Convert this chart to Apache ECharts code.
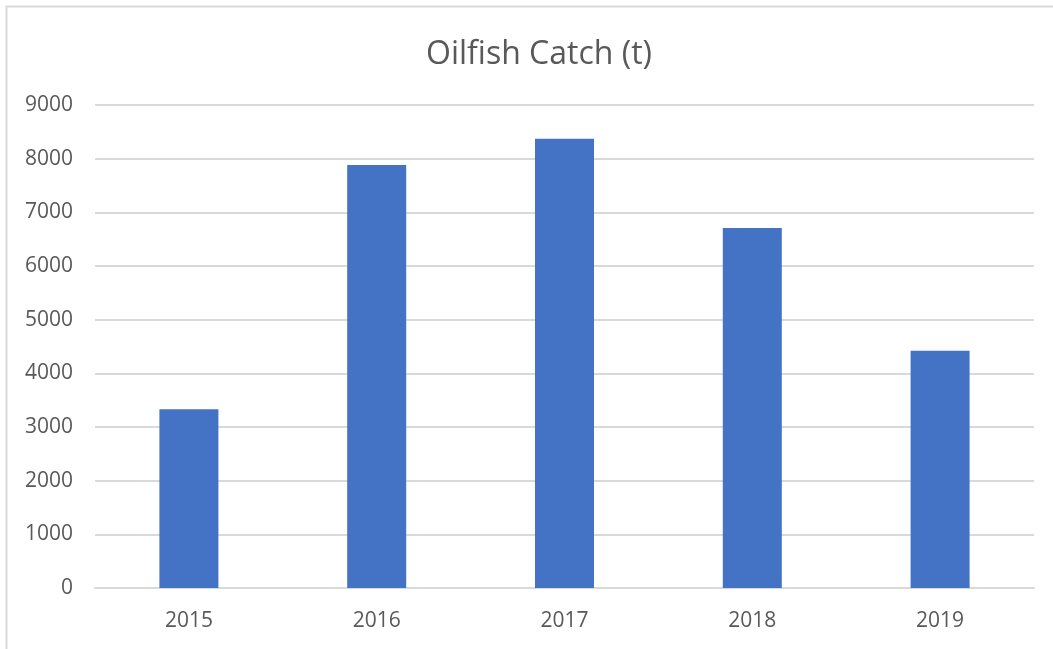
<!DOCTYPE html>
<html>
<head>
<meta charset="utf-8">
<title>Oilfish Catch (t)</title>
<script src="https://cdn.jsdelivr.net/npm/echarts@6/dist/echarts.min.js"></script>
<style>
  html, body { margin: 0; padding: 0; background: #fff; }
  #chart { width: 1053px; height: 649px; }
</style>
</head>
<body>
<div id="chart"></div>
<script>
const years = ['2015', '2016', '2017', '2018', '2019']
const catchTonnes = [3330, 7880, 8370, 6710, 4420]
const yTicks = { min: 0, max: 9000, interval: 1000 }

const textColor = '#595959'
const gridColor = '#d9d9d9'
const fontFamily = '"Open Sans", "Noto Sans", sans-serif'

const myChart = echarts.init(document.getElementById('chart'))

const option = {
  backgroundColor: '#fff',
  animation: false,
  title: {
    text: 'Oilfish Catch (t)',
    left: 534,
    top: 34,
    textAlign: 'center',
    textStyle: {
      color: textColor,
      fontSize: 32,
      fontWeight: 'normal',
      fontFamily: fontFamily
    }
  },
  graphic: [
    {
      // outer chart border (cropped on the right and bottom)
      type: 'rect',
      silent: true,
      shape: { x: 6.5, y: 6.5, width: 1070, height: 670 },
      style: { fill: 'none', stroke: gridColor, lineWidth: 2 }
    }
  ],
  grid: {
    left: 95,
    right: 19,
    top: 105,
    bottom: 61,
    containLabel: false
  },
  xAxis: {
    type: 'category',
    data: years,
    axisLine: { lineStyle: { color: gridColor, width: 2 } },
    axisTick: { show: false },
    axisLabel: {
      color: textColor,
      fontSize: 21,
      fontFamily: fontFamily,
      margin: 23
    }
  },
  yAxis: {
    type: 'value',
    min: yTicks.min,
    max: yTicks.max,
    interval: yTicks.interval,
    axisLine: { show: false },
    axisTick: { show: false },
    axisLabel: {
      color: textColor,
      fontSize: 21,
      fontFamily: fontFamily,
      margin: 22,
      formatter: (v) => String(v)
    },
    splitLine: { lineStyle: { color: gridColor, width: 2 } }
  },
  series: [
    {
      name: 'Oilfish Catch (t)',
      type: 'bar',
      data: catchTonnes,
      barWidth: 59,
      itemStyle: { color: '#4472c4' }
    }
  ]
}

myChart.setOption(option)
</script>
</body>
</html>
